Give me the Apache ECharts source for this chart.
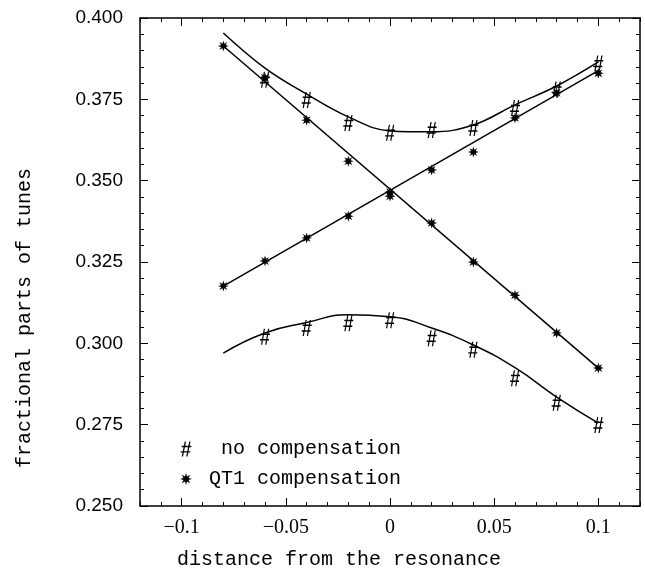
<!DOCTYPE html>
<html>
<head>
<meta charset="utf-8">
<script src="https://cdn.jsdelivr.net/npm/echarts@6/dist/echarts.min.js"></script>
<style>
  html, body { margin: 0; padding: 0; background: #fff; }
  #chart { width: 645px; height: 572px; }
</style>
</head>
<body>
<div id="chart"></div>
<script>
// measured points
const xsAll = [-0.08, -0.06, -0.04, -0.02, 0, 0.02, 0.04, 0.06, 0.08, 0.1];
const xsHash = [-0.06, -0.04, -0.02, 0, 0.02, 0.04, 0.06, 0.08, 0.1];
const noCompUpper = [0.381, 0.3748, 0.3677, 0.3647, 0.3656, 0.3662, 0.3723, 0.378, 0.386];
const noCompLower = [0.302, 0.3047, 0.3062, 0.3071, 0.3016, 0.298, 0.2893, 0.2817, 0.2749];
const qt1Desc = [0.3914, 0.3816, 0.3686, 0.356, 0.3465, 0.337, 0.325, 0.3148, 0.3032, 0.2924];
const qt1Asc = [0.3176, 0.3253, 0.3324, 0.3391, 0.3452, 0.3533, 0.3588, 0.3693, 0.377, 0.383];

// fitted curves
const fitUpper = [0.3954, 0.3846, 0.3766, 0.3696, 0.3653, 0.365, 0.3671, 0.3733, 0.3791, 0.3865];
const fitLower = [0.297, 0.3032, 0.3064, 0.3088, 0.3082, 0.3047, 0.2995, 0.2925, 0.2835, 0.2755];
const fitLineX = [-0.08, 0.1];
const fitDesc = [0.3914, 0.2924];
const fitAsc = [0.3176, 0.3838];

// axis labels
const xTickValues = [-0.1, -0.05, 0, 0.05, 0.1];
const xTickLabels = ['\u22120.1', '\u22120.05', '0', '0.05', '0.1'];

const hashPath = 'path://M3.8 0L5 0L2.2 14L1 14Z M8 0L9.2 0L6.4 14L5.2 14Z M1 4L10 4L10 5.3L1 5.3Z M0 9L9 9L9 10.3L0 10.3Z';
const starPath = 'path://M20 10L14.16 11.72L17.07 17.07L11.72 14.16L10 20L8.28 14.16L2.93 17.07L5.84 11.72L0 10L5.84 8.28L2.93 2.93L8.28 5.84L10 0L11.72 5.84L17.07 2.93L14.16 8.28Z';

const mono = '"Liberation Mono", "DejaVu Sans Mono", monospace';
const zip = (xs, ys) => xs.map((x, i) => [x, ys[i]]);

const fitLine = (data, smooth) => ({
    type: 'line', data: data, smooth: smooth, showSymbol: false, silent: true,
    xAxisIndex: 0, yAxisIndex: 0,
    lineStyle: { color: '#000', width: 1.5 }, z: 2
});
const marks = (name, data, symbol, size) => ({
    name: name, type: 'scatter', data: data, symbol: symbol, symbolSize: size,
    xAxisIndex: 0, yAxisIndex: 0,
    itemStyle: { color: '#000', opacity: 1 }, z: 3
});

const option = {
    animation: false,
    grid: { left: 140, right: 5, top: 18, bottom: 66 },
    legend: {
        orient: 'vertical', left: 175, top: 434, itemGap: 10,
        itemWidth: 12, itemHeight: 15,
        data: [
            { name: 'no compensation', icon: hashPath },
            { name: 'QT1 compensation', icon: starPath }
        ],
        formatter: name => (name === 'no compensation' ? '  ' : ' ') + name,
        textStyle: { fontFamily: mono, fontSize: 20, color: '#000' },
        itemStyle: { color: '#000' }
    },
    xAxis: [
        {
            type: 'value', min: -0.12, max: 0.12, position: 'bottom',
            axisLine: { show: true, onZero: false, lineStyle: { color: '#000', width: 1.5 } },
            axisTick: { show: true, inside: true, length: 8, customValues: xTickValues, lineStyle: { color: '#000' } },
            axisLabel: {
                customValues: xTickValues, margin: 12,
                formatter: v => xTickLabels[xTickValues.findIndex(t => Math.abs(t - v) < 1e-9)],
                fontFamily: '"Liberation Serif", serif', fontSize: 20, color: '#000'
            },
            splitLine: { show: false }
        },
        {
            type: 'value', min: -0.12, max: 0.12, interval: 0.01, position: 'bottom',
            axisLine: { show: false },
            axisTick: { show: true, inside: true, length: 4, lineStyle: { color: '#000' } },
            axisLabel: { show: false }, splitLine: { show: false }
        },
        {
            type: 'value', min: -0.12, max: 0.12, interval: 0.01, position: 'top',
            axisLine: { show: true, onZero: false, lineStyle: { color: '#000', width: 1.5 } },
            axisTick: { show: true, inside: true, length: 4, lineStyle: { color: '#000' } },
            axisLabel: { show: false }, splitLine: { show: false }
        },
        {
            type: 'value', min: -0.12, max: 0.12, position: 'top',
            axisLine: { show: false },
            axisTick: { show: true, inside: true, length: 8, customValues: xTickValues, lineStyle: { color: '#000' } },
            axisLabel: { show: false }, splitLine: { show: false }
        }
    ],
    yAxis: [
        {
            type: 'value', min: 0.25, max: 0.4, interval: 0.025, position: 'left',
            axisLine: { show: true, onZero: false, lineStyle: { color: '#000', width: 1.5 } },
            axisTick: { show: true, inside: true, length: 8, lineStyle: { color: '#000' } },
            minorTick: { show: true, splitNumber: 5, length: 4, lineStyle: { color: '#000' } },
            axisLabel: {
                margin: 17, formatter: v => v.toFixed(3),
                fontFamily: '"Liberation Sans", Arial, sans-serif', fontSize: 19, color: '#000'
            },
            splitLine: { show: false }
        },
        {
            type: 'value', min: 0.25, max: 0.4, interval: 0.025, position: 'right',
            axisLine: { show: true, onZero: false, lineStyle: { color: '#000', width: 1.5 } },
            axisTick: { show: true, inside: true, length: 8, lineStyle: { color: '#000' } },
            minorTick: { show: true, splitNumber: 5, length: 4, lineStyle: { color: '#000' } },
            axisLabel: { show: false }, splitLine: { show: false }
        }
    ],
    graphic: [
        {
            type: 'text', left: 177, top: 550,
            style: { text: 'distance from the resonance', font: '20px ' + mono, fill: '#000' }
        },
        {
            type: 'text', x: 25, y: 318, rotation: Math.PI / 2,
            style: {
                text: 'fractional parts of tunes', font: '20px ' + mono, fill: '#000',
                align: 'center', verticalAlign: 'middle'
            }
        }
    ],
    series: [
        fitLine(zip(xsAll, fitUpper), 0.4),
        fitLine(zip(xsAll, fitLower), 0.5),
        fitLine(zip(fitLineX, fitDesc), false),
        fitLine(zip(fitLineX, fitAsc), false),
        marks('no compensation', zip(xsHash, noCompUpper), hashPath, [10, 16]),
        marks('no compensation', zip(xsHash, noCompLower), hashPath, [10, 16]),
        marks('QT1 compensation', zip(xsAll, qt1Desc), starPath, 11),
        marks('QT1 compensation', zip(xsAll, qt1Asc), starPath, 11)
    ]
};

const myChart = echarts.init(document.getElementById('chart'));
myChart.setOption(option);
</script>
</body>
</html>
